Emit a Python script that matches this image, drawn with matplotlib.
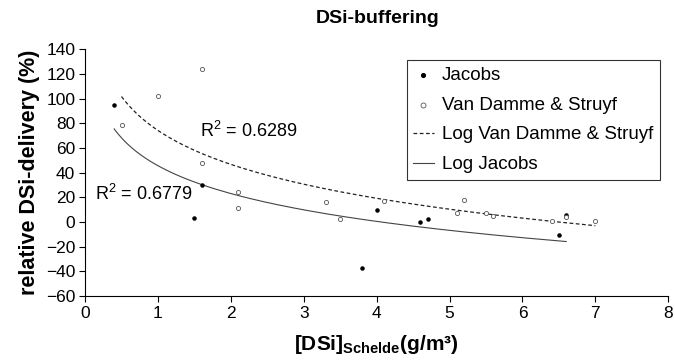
import matplotlib
matplotlib.use("Agg")
import matplotlib.pyplot as plt
import numpy as np

plt.rcParams['font.family'] = ['Liberation Sans', 'DejaVu Sans']
plt.rcParams['mathtext.fontset'] = 'custom'
plt.rcParams['mathtext.rm'] = 'Liberation Sans'
plt.rcParams['mathtext.bf'] = 'Liberation Sans:bold'

# data
jacobs_x = [0.4, 1.5, 1.6, 3.8, 4.0, 4.6, 4.7, 6.5, 6.6]
jacobs_y = [95, 3, 30, -37, 10, 0, 2, -11, 6]
vds_x = [0.5, 1.0, 1.6, 1.6, 2.1, 2.1, 3.3, 3.5, 4.1, 5.1, 5.2, 5.5, 5.6, 6.4, 6.6, 7.0]
vds_y = [79, 102, 124, 48, 24, 11, 16, 2, 17, 7, 18, 7, 5, 1, 4, 1]

# log trend lines (y = a*ln(x) + b), coefficients
jac_a, jac_b = -32.6, 45.6
vds_a, vds_b = -39.7, 74.2

fig = plt.figure(figsize=(6.75, 3.63), dpi=100)
ax = fig.add_axes([0.126, 0.185, 0.864, 0.679])

ax.scatter(jacobs_x, jacobs_y, s=5, color='black', label='Jacobs', zorder=3)
ax.scatter(vds_x, vds_y, s=9, facecolor='white', edgecolor='#555555', linewidth=0.6,
           label='Van Damme & Struyf', zorder=3)

xv = np.linspace(min(vds_x), max(vds_x), 200)
ax.plot(xv, vds_a * np.log(xv) + vds_b, color='#222222', lw=0.9, ls=(0, (3, 2)),
        label='Log Van Damme & Struyf')
xj = np.linspace(min(jacobs_x), max(jacobs_x), 200)
ax.plot(xj, jac_a * np.log(xj) + jac_b, color='#444444', lw=0.8, label='Log Jacobs')

ax.text(1.58, 74, 'R$^2$ = 0.6289', fontsize=13, va='center')
ax.text(0.14, 22.5, 'R$^2$ = 0.6779', fontsize=13, va='center')

ax.set_xlim(0, 8)
ax.set_ylim(-60, 140)
ax.set_xticks(range(0, 9))
ax.set_yticks(range(-60, 141, 20))
ax.tick_params(labelsize=12.5, direction='out', length=4, width=0.8, pad=3)
for s in ['top', 'right']:
    ax.spines[s].set_visible(False)
ax.spines['left'].set_linewidth(0.8)
ax.spines['bottom'].set_linewidth(0.8)

ax.set_xlabel('[DSi]$_{\\mathbf{Schelde}}$(g/m³)', fontsize=15, fontweight='bold', labelpad=9)
ax.set_ylabel('relative DSi-delivery (%)', fontsize=15.5, fontweight='bold', labelpad=4)
fig.text(0.56, 0.95, 'DSi-buffering', fontsize=14, fontweight='bold', ha='center', va='center')

leg = ax.legend(loc='upper right', bbox_to_anchor=(0.986, 0.957), borderaxespad=0,
                fontsize=13.5, frameon=True, fancybox=False, labelspacing=0.68,
                handlelength=1.1, handletextpad=0.45, borderpad=0.35, markerscale=1.2)
leg.get_frame().set_edgecolor('black')
leg.get_frame().set_linewidth(0.8)

fig.savefig('out.png', dpi=100)
